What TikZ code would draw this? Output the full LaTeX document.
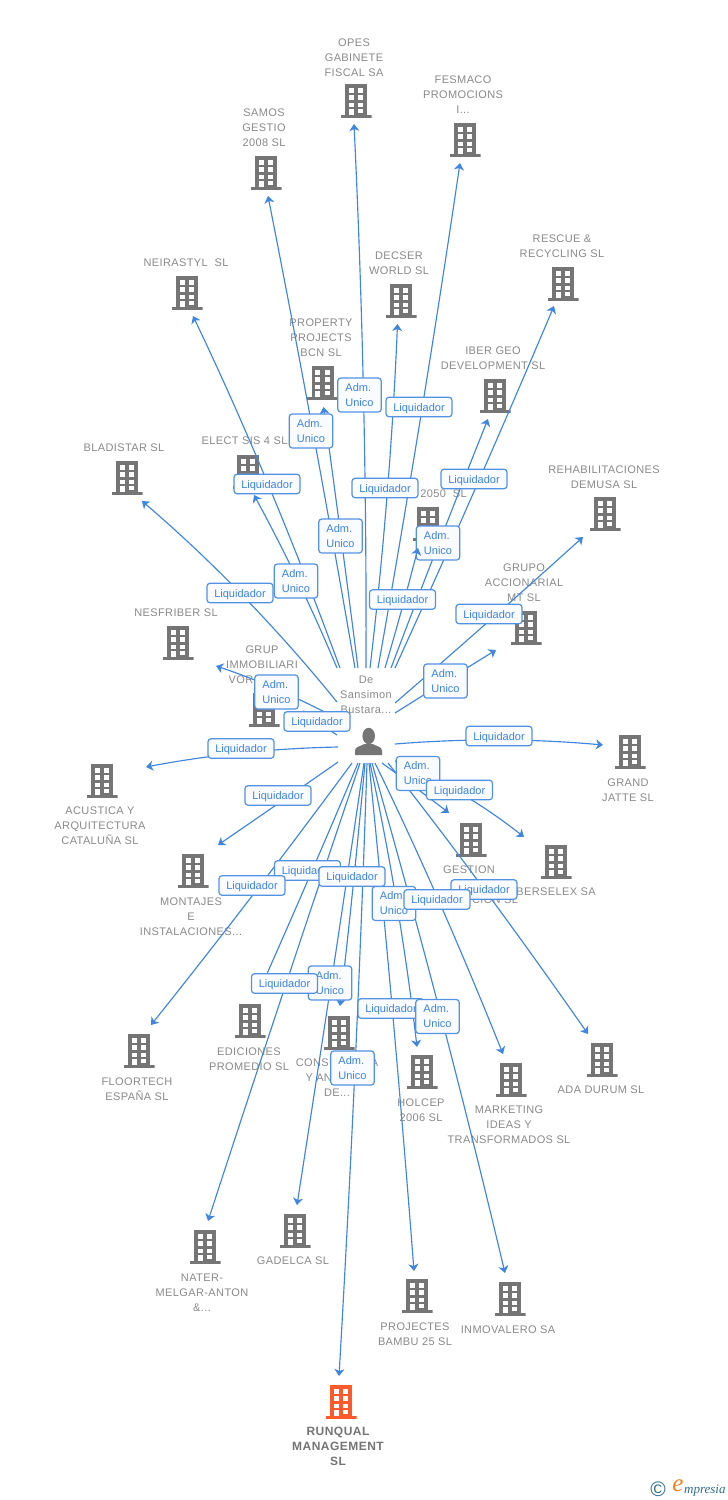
\documentclass[tikz,border=0pt]{standalone}
\usepackage{fontspec}
\usetikzlibrary{arrows.meta,calc}
\setmainfont{Liberation Sans}
\newfontfamily\namefont[LetterSpace=3.5]{Liberation Sans}
\newfontfamily\boldnamefont[LetterSpace=4,BoldFont={Liberation Sans Bold}]{Liberation Sans}
\newfontfamily\logofont{Liberation Serif}
\definecolor{edgec}{HTML}{3F86E0}
\definecolor{labtext}{HTML}{3C84E0}
\definecolor{labfill}{HTML}{FAFBFE}
\definecolor{namec}{HTML}{8A8A8A}
\definecolor{iconc}{HTML}{757575}
\definecolor{mainc}{HTML}{FF5A2B}
\definecolor{logot}{HTML}{2F6F8F}
\definecolor{logoo}{HTML}{F58220}
\tikzset{
  x=1pt,y=-1pt,
  bld/.style={inner sep=0pt,outer sep=0pt,minimum width=31pt,minimum height=34pt,
    path picture={
      \begin{scope}[shift={(path picture bounding box.center)}]
      \fill[#1] (-11,-17) rectangle (11,14.5);
      \fill[#1] (-15.5,14) rectangle (15.5,17);
      \fill[white] (-7.2,-12.7) rectangle (-2.2,-8.3);
      \fill[white] (2,-12.7) rectangle (7,-8.3);
      \fill[white] (-7.2,-5.7) rectangle (-2.2,-1);
      \fill[white] (2,-5.7) rectangle (7,-1);
      \fill[white] (-7.2,1.7) rectangle (-2.2,6);
      \fill[white] (2,1.7) rectangle (7,6);
      \fill[white] (-7.2,8) rectangle (-2.2,14.2);
      \fill[white] (2,8) rectangle (7,12);
      \end{scope}
    }},
  nametext/.style={inner sep=0pt,yshift=-1pt,align=center,text=namec,font=\namefont\fontsize{11}{15}\selectfont},
  mainname/.style={inner sep=0pt,align=center,text=iconc,font=\boldnamefont\bfseries\fontsize{12}{15}\selectfont},
  edge/.style={draw=edgec,line width=1.15pt,-{Stealth[length=7pt,width=10pt,inset=2pt]}},
  lab/.style={draw=edgec!90!white,line width=1.2pt,fill=labfill,rounded corners=3pt,text=labtext,
    inner sep=0pt,font=\fontsize{11}{15}\selectfont},
  labliq/.style={lab,minimum width=66pt,minimum height=19.5pt,text height=10pt,text depth=2pt,node contents={Liquidador}},
  labadm/.style={lab,minimum width=43.5pt,minimum height=34pt,align=left,node contents={Adm.\\Unico}},
  hubbox/.style={inner sep=0pt,outer sep=0pt,minimum width=57pt,minimum height=95pt},
}
\begin{document}
\begin{tikzpicture}
\useasboundingbox (0,0) rectangle (728,1500);
\fill[white] (0,0) rectangle (728,1500);
% buildings
\foreach \n/\x/\y in {opes/356/101,fesmaco/465/140,samos/266/173,neira/187/293,decser/401/301,
  rescue/563/284,prop/322.5/383,iber/495/396,elect/248/472,blad/127/478,y2050/428/524,
  rehab/605/514,grupo/526/628,nesf/178/643,grup/264/710,acus/102/781,jatte/630/752,
  mont/193/871,gest/471/840,bers/556/862,floor/139/1051,edic/250/1021,cons/339/1033,
  holc/422/1072,mark/511/1080,ada/602/1060,nater/205/1247,gadel/295/1231,proj/417/1296,inmo/510/1299}
  {\node[bld=iconc] (b\n) at (\x,\y) {};}
\node[bld=mainc] (brun) at (341,1402) {};
% names
\foreach \n/\x/\y/\t in {
  opes/354/57/{OPES\\GABINETE\\FISCAL SA},
  fesmaco/463/94/{FESMACO\\PROMOCIONS\\I...},
  samos/264/127/{SAMOS\\GESTIO\\2008 SL},
  neira/186/262/{NEIRASTYL\ \ SL},
  decser/399/262.5/{DECSER\\WORLD SL},
  rescue/562/245.5/{RESCUE \&\\RECYCLING SL},
  prop/321/337/{PROPERTY\\PROJECTS\\BCN SL},
  iber/493/357.5/{IBER GEO\\DEVELOPMENT SL},
  elect/244.5/440/{ELECT SIS 4 SL},
  blad/124/447/{BLADISTAR SL},
  y2050/443.5/493/{2050\ \ SL},
  rehab/604/476.5/{REHABILITACIONES\\DEMUSA SL},
  grupo/524/582/{GRUPO\\ACCIONARIAL\\MT SL},
  nesf/176/612/{NESFRIBER SL},
  grup/262/664/{GRUP\\IMMOBILIARI\\VOR\hspace*{42pt}},
  acus/100/825/{ACUSTICA Y\\ARQUITECTURA\\CATALUÑA SL},
  jatte/628/789.5/{GRAND\\JATTE SL},
  mont/191/916/{MONTAJES\\E\\INSTALACIONES...},
  gest/469/884/{GESTION\\LE\hspace*{42pt}\\\hspace*{52pt}CION SL},
  bers/556/891/{BERSELEX SA},
  floor/137/1088.5/{FLOORTECH\\ESPAÑA SL},
  edic/249/1058.5/{EDICIONES\\PROMEDIO SL},
  cons/337/1077/{CONSULTORIA\\Y ANALISIS\\DE...},
  holc/421/1109.5/{HOLCEP\\2006 SL},
  mark/509/1124/{MARKETING\\IDEAS Y\\TRANSFORMADOS SL},
  ada/601/1089/{ADA DURUM SL},
  nater/202/1292/{NATER-\\MELGAR-ANTON\\\&...},
  gadel/293/1260/{GADELCA SL},
  proj/415/1333.5/{PROJECTES\\BAMBU 25 SL},
  inmo/508/1329/{INMOVALERO SA},
  hubname/366/694/{De\\Sansimon\\Bustara...}}
  {\node[nametext] (t\n) at (\x,\y) {\t};}
\node[mainname] (trun) at (338,1446) {RUNQUAL\\MANAGEMENT\\SL};
% person
\node[hubbox] (hub) at (366.5,715.5) {};
\node[inner sep=0pt,minimum width=28pt,minimum height=28pt,
  path picture={
    \begin{scope}[shift={(path picture bounding box.center)}]
    \fill[iconc] (0.2,-5.5) ellipse [x radius=6.3,y radius=8.2];
    \fill[iconc] (-13.5,13.5) -- (-13.5,9) .. controls (-13.5,5.5) and (-8,4.5) .. (-4,2.5)
      -- (4,2.5) .. controls (8,4.5) and (13.5,5.5) .. (13.5,9) -- (13.5,13.5) -- cycle;
    \end{scope}
  }] (person) at (368.5,741.5) {};
% edges: name / start x y / tip x y / pass x y
\foreach \n/\sx/\sy/\ax/\ay/\mx/\my in {
  opes/366/668/354/124/363.5/396, fesmaco/378/668/460/163/421/415, samos/355/668/268/196/313/432,
  prop/358/668/323.5/407/341/537, decser/370/668/397.5/324/387/496, rescue/395/668/554/306/476/487,
  iber/391/668/488/419/439/543, neira/340/668/193/316/268/484, elect/337/668/254/495/298/581,
  blad/337/702/142/501/243/596, nesf/338/719/216/666/276/689, grup/337/735/296/712/317/723,
  acus/338/747/146/767/241/753, jatte/395/744/603/745/499/740, grupo/395/713/496/650/446/681,
  rehab/395/703/583/537/489/621, mont/338/762/218/845/279/803, gest/382/763/449/813/416/788,
  bers/395/761/524/837/460/793, ada/388/763/588/1034/484/889, mark/375/763/503/1054/438/899,
  holc/370/763/417/1047/397/905, inmo/372/763/505/1273/441/1016, proj/369/763/414/1271/393/1017,
  edic/358/763/258/994/308/880, nater/360/763/208/1221/284/990, gadel/364/763/297/1205/331/984,
  floor/352/763/151/1025/252/896, cons/365/763/340/1006/353/887, run/367/763/339/1376/355/1068}
{
  \coordinate (s\n) at (\sx,\sy);
  \coordinate (a\n) at (\ax,\ay);
  \pgfmathsetmacro\qx{2*\mx-0.5*(\sx+\ax)}
  \pgfmathsetmacro\qy{2*\my-0.5*(\sy+\ay)}
  \coordinate (q\n) at (\qx,\qy);
  \draw[edge] (s\n) .. controls ($(s\n)!0.667!(q\n)$) and ($(a\n)!0.667!(q\n)$) .. (a\n);
}
% labels
\foreach \n/\x/\y/\s in {
  opes/359.5/395/labadm, fesmaco/419/407/labliq, samos/311/431/labadm, prop/340.5/536/labadm,
  decser/385/488/labliq, rescue/474/479/labliq, iber/438/543/labadm,
  neira/267/484/labliq, elect/296/581/labadm, blad/240/593/labliq, nesf/276.5/692/labadm,
  grup/317/721.5/labliq, acus/241/748.5/labliq, jatte/499/736/labliq, grupo/445.5/681/labadm,
  rehab/489/614/labliq, mont/278/795.5/labliq, gest/418/773.5/labadm, bers/459.5/790/labliq,
  ada/484/889.5/labliq, holc/394/903.5/labadm, mark/437/899.5/labliq,
  edic/307.5/870.5/labliq, cons/352/876.5/labliq, gadel/330/983/labadm, nater/284.5/983.5/labliq,
  floor/252/885.5/labliq, proj/391/1008.5/labliq, inmo/437.5/1016.5/labadm, run/352.5/1068/labadm}
{ \node[\s,name=l\n,at={(\x,\y)}]; }
\coordinate (sy2050) at (385,668);
\coordinate (ay2050) at (418,548);
\coordinate (qy2050) at (403,607);
\draw[edge] (sy2050) .. controls ($(sy2050)!0.667!(qy2050)$) and ($(ay2050)!0.667!(qy2050)$) .. (ay2050);
\node[labliq,name=ly2050,at={(402.5,599.5)}];
% logo
\node[inner sep=0pt,text=logot,font=\fontsize{21}{21}\selectfont] (logoc) at (658,1489) {©};
\node[inner sep=0pt,text=logoo,font=\logofont\itshape\fontsize{25}{25}\selectfont] (logoe) at (678,1486) {e};
\node[inner sep=0pt,text=logot,font=\logofont\itshape\fontsize{13}{13}\selectfont,anchor=base west] (logom) at (684,1493) {mpresia};
\end{tikzpicture}
\end{document}
